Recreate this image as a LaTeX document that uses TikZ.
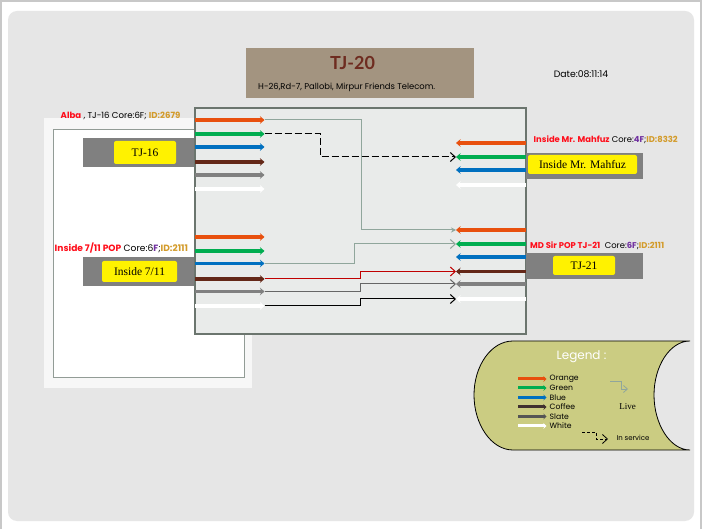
\documentclass[tikz,border=0pt]{standalone}
\usepackage{fontspec}
\setmainfont{Poppins}
\newfontfamily\labelfont{Liberation Serif}
\newfontfamily\titlefont{Lato}
\usepackage{xcolor}
\usetikzlibrary{arrows.meta}
\definecolor{panelgray}{HTML}{E6E6E6}
\definecolor{rimgray}{HTML}{C8C8C8}
\definecolor{roomline}{HTML}{929C96}
\definecolor{hallfill}{HTML}{E9EBEA}
\definecolor{hallline}{HTML}{6B756E}
\definecolor{tabgray}{HTML}{808080}
\definecolor{titlebrown}{HTML}{A39480}
\definecolor{titletext}{HTML}{6E2C20}
\definecolor{corered}{HTML}{FF0D1A}
\definecolor{corepurple}{HTML}{7030A0}
\definecolor{coregold}{HTML}{D39B2A}
\definecolor{legendfill}{HTML}{CBCC82}
\definecolor{fibreorange}{HTML}{E8500E}
\definecolor{fibregreen}{HTML}{00AD50}
\definecolor{fibreblue}{HTML}{0070C0}
\definecolor{fibrecoffee}{HTML}{642818}
\definecolor{fibreslate}{HTML}{808080}
\definecolor{fibrewhite}{HTML}{FFFFFF}
\definecolor{keycoffee}{HTML}{403030}
\definecolor{keyslate}{HTML}{555555}
\definecolor{livegreen}{HTML}{90A69C}
\definecolor{linkred}{HTML}{C00000}
\definecolor{linkslate}{HTML}{666666}

\begin{document}
\begin{tikzpicture}[
  x=1pt, y=-1pt,
  fibre/.style={line width=3.2pt, -{Stealth[length=4.5pt,width=7.5pt]}},
  smallfibre/.style={line width=3pt, -{Stealth[length=3pt,width=5.5pt]}},
  link/.style={line width=1pt, -{Straight Barb[length=5pt,width=9pt]}},
  livelink/.style={link, draw=livegreen},
  tab/.style={fill=tabgray, inner sep=0pt},
  tag/.style={fill=yellow, rounded corners=2pt, inner sep=0pt, font=\labelfont\fontsize{11.5}{12}\selectfont},
  core/.style={anchor=west, inner sep=0pt, font=\fontsize{8.4}{9}\selectfont},
  legendtext/.style={anchor=west, inner sep=0pt, font=\fontsize{7.7}{8}\selectfont}
]
    \useasboundingbox (0,0) rectangle (702,529);
    % Page and panel
    \fill[white] (0,0) rectangle (702,529);
    \fill[rimgray] (0,0) rectangle (702,2);
    \fill[rimgray] (0,0) rectangle (2,529);
    \fill[rimgray] (700,0) rectangle (702,529);
    \fill[panelgray, rounded corners=9pt] (8,11) rectangle (694,521);

    % Outer room behind the hall
    \node[fill=white!97!black, minimum width=208pt, minimum height=270pt, inner sep=0pt] (outer) at (148,253) {};
    \node[fill=white, draw=roomline, line width=0.8pt, minimum width=191pt, minimum height=248pt, inner sep=0pt] (room) at (148.5,253) {};

    % Title block
    \node[fill=titlebrown, minimum width=228pt, minimum height=50pt, inner sep=0pt] (title) at (360,73) {};
    \node[text=titletext, inner sep=0pt, font=\titlefont\fontsize{18}{19}\selectfont\bfseries] (name) at (352.5,63) {TJ-20};
    \node[anchor=west, inner sep=0pt, font=\fontsize{8.4}{9}\selectfont] (addr) at (258,87) {H-26,Rd-7, Pallobi, Mirpur Friends Telecom.};
    \node[inner sep=0pt, font=\fontsize{9.3}{10}\selectfont] (date) at (581,74) {Date:08:11:14};

    % Hall
    \node[fill=hallfill, draw=hallline, line width=2pt, minimum width=331pt, minimum height=226pt, inner sep=0pt] (hall) at (360.5,221) {};

    % Gray tabs with yellow tags
    \node[tab, minimum width=111pt, minimum height=29pt] (tabA) at (138.5,152.5) {};
    \node[tag, minimum width=62pt, minimum height=23pt] (tagA) at (145,152.5) {TJ-16};
    \node[tab, minimum width=111pt, minimum height=29pt] (tabB) at (138.5,271.5) {};
    \node[tag, minimum width=75pt, minimum height=21pt] (tagB) at (139.5,271.5) {Inside 7/11};
    \node[tab, minimum width=117pt, minimum height=26pt] (tabC) at (584.5,166) {};
    \node[tag, minimum width=109pt, minimum height=19pt] (tagC) at (582.5,164.5) {Inside Mr. Mahfuz};
    \node[tab, minimum width=117pt, minimum height=26pt] (tabD) at (584.5,266) {};
    \node[tag, minimum width=62pt, minimum height=19pt] (tagD) at (584,265.5) {TJ-21};

    % Core labels
    \node[core, font=\fontsize{8.6}{9}\selectfont] (coreA) at (60.5,116) {\textcolor{corered}{\textbf{Alba}} , TJ-16 Core:6F; \textcolor{coregold}{\textbf{ID:2679}}};
    \node[core, font=\fontsize{9.1}{10}\selectfont] (coreB) at (54.5,248) {\textcolor{corered}{\textbf{Inside 7/11 POP}} Core:6\textcolor{corepurple}{\textbf{F}};\textcolor{coregold}{\textbf{ID:2111}}};
    \node[core] (coreC) at (533.5,140) {\textcolor{corered}{\textbf{Inside Mr. Mahfuz}} Core:\textcolor{corepurple}{\textbf{4F}};\textcolor{coregold}{\textbf{ID:8332}}};
    \node[core] (coreD) at (530,245.5) {\textcolor{corered}{\textbf{MD Sir POP TJ-21}}\ \ Core:\textcolor{corepurple}{\textbf{6F}};\textcolor{coregold}{\textbf{ID:2111}}};

    % Left fibres, groups a and b
    \foreach \fib/\col/\ya/\yb in {1/fibreorange/120/237, 2/fibregreen/134/251, 3/fibreblue/147/263.5,
                                   4/fibrecoffee/162/279, 5/fibreslate/175/291.5, 6/fibrewhite/189/306} {
      \coordinate (aS\fib) at (195,\ya);
      \coordinate (aE\fib) at (264.5,\ya);
      \coordinate (bS\fib) at (195,\yb);
      \coordinate (bE\fib) at (264.5,\yb);
      \draw[fibre, draw=\col] (aS\fib) -- (aE\fib);
      \draw[fibre, draw=\col] (bS\fib) -- (bE\fib);
    }

    % Right fibres, group c (Mahfuz)
    \foreach \fib/\col/\y in {1/fibreorange/143, 2/fibregreen/157, 3/fibreblue/170, 6/fibrewhite/185} {
      \coordinate (cS\fib) at (525.5,\y);
      \coordinate (cE\fib) at (456,\y);
      \draw[fibre, draw=\col] (cS\fib) -- (cE\fib);
    }
    % Right fibres, group d (TJ-21)
    \foreach \fib/\col/\y in {1/fibreorange/230, 2/fibregreen/244, 3/fibreblue/257,
                              4/fibrecoffee/271.5, 5/fibreslate/284, 6/fibrewhite/299} {
      \coordinate (dS\fib) at (525.5,\y);
      \coordinate (dE\fib) at (456,\y);
      \draw[fibre, draw=\col] (dS\fib) -- (dE\fib);
    }

    % Links across the hall
    \draw[draw=livegreen, line width=1pt, -{Stealth[length=5pt,width=5pt]}] (aE1) -- (361,120) -- (361,230) -- (dE1);
    \draw[link, dashed, dash pattern=on 7pt off 3pt] (aE2) -- (320.5,134) -- (320.5,157) -- (cE2);
    \draw[livelink] (bE3) -- (354.5,263.5) -- (354.5,244) -- (dE2);
    \draw[link, draw=linkred] (bE4) -- (360,279) -- (360,271.5) -- (dE4);
    \draw[link, draw=linkslate] (bE5) -- (360,291.5) -- (360,284) -- (dE5);
    \draw[link, draw=black] (bE6) -- (360,306) -- (360,299) -- (dE6);

    % Legend
    \filldraw[fill=legendfill, draw=black, line width=0.8pt]
      (690,341) -- (513,341) .. controls (491,341) and (474,366) .. (474,395)
      .. controls (474,424) and (491,450) .. (513,450) -- (690,450)
      .. controls (670,450) and (654,424) .. (654,395)
      .. controls (654,366) and (670,341) .. (690,341);
    \node[text=white, inner sep=0pt, font=\fontsize{12}{13}\selectfont] (legend) at (581.5,357) {Legend :};
    \foreach \fib/\col/\txt/\y in {1/fibreorange/Orange/379, 2/fibregreen/Green/388, 3/fibreblue/Blue/397.5,
                                   4/keycoffee/Coffee/407, 5/keyslate/Slate/416.5, 6/fibrewhite/White/426} {
      \coordinate (kS\fib) at (518,\y);
      \coordinate (kE\fib) at (546.5,\y);
      \draw[smallfibre, draw=\col] (kS\fib) -- (kE\fib);
      \node[legendtext] (kT\fib) at (549.5,\y) {\txt};
    }
    \coordinate (liveS) at (610,381);
    \coordinate (liveE) at (628,389);
    \draw[draw=livegreen, line width=0.8pt, -{Straight Barb[length=4pt,width=7pt]}] (liveS) -- (621,381) -- (621,389) -- (liveE);
    \node[inner sep=0pt, font=\labelfont\fontsize{9}{10}\selectfont] (livetext) at (627.5,407) {Live};
    \coordinate (servS) at (582,432);
    \coordinate (servE) at (608,439);
    \draw[link, dashed, dash pattern=on 3pt off 2pt, line width=0.8pt] (servS) -- (596,432) -- (596,439) -- (servE);
    \node[inner sep=0pt, font=\fontsize{7}{8}\selectfont] (servtext) at (633,438) {In service};
\end{tikzpicture}
\end{document}
